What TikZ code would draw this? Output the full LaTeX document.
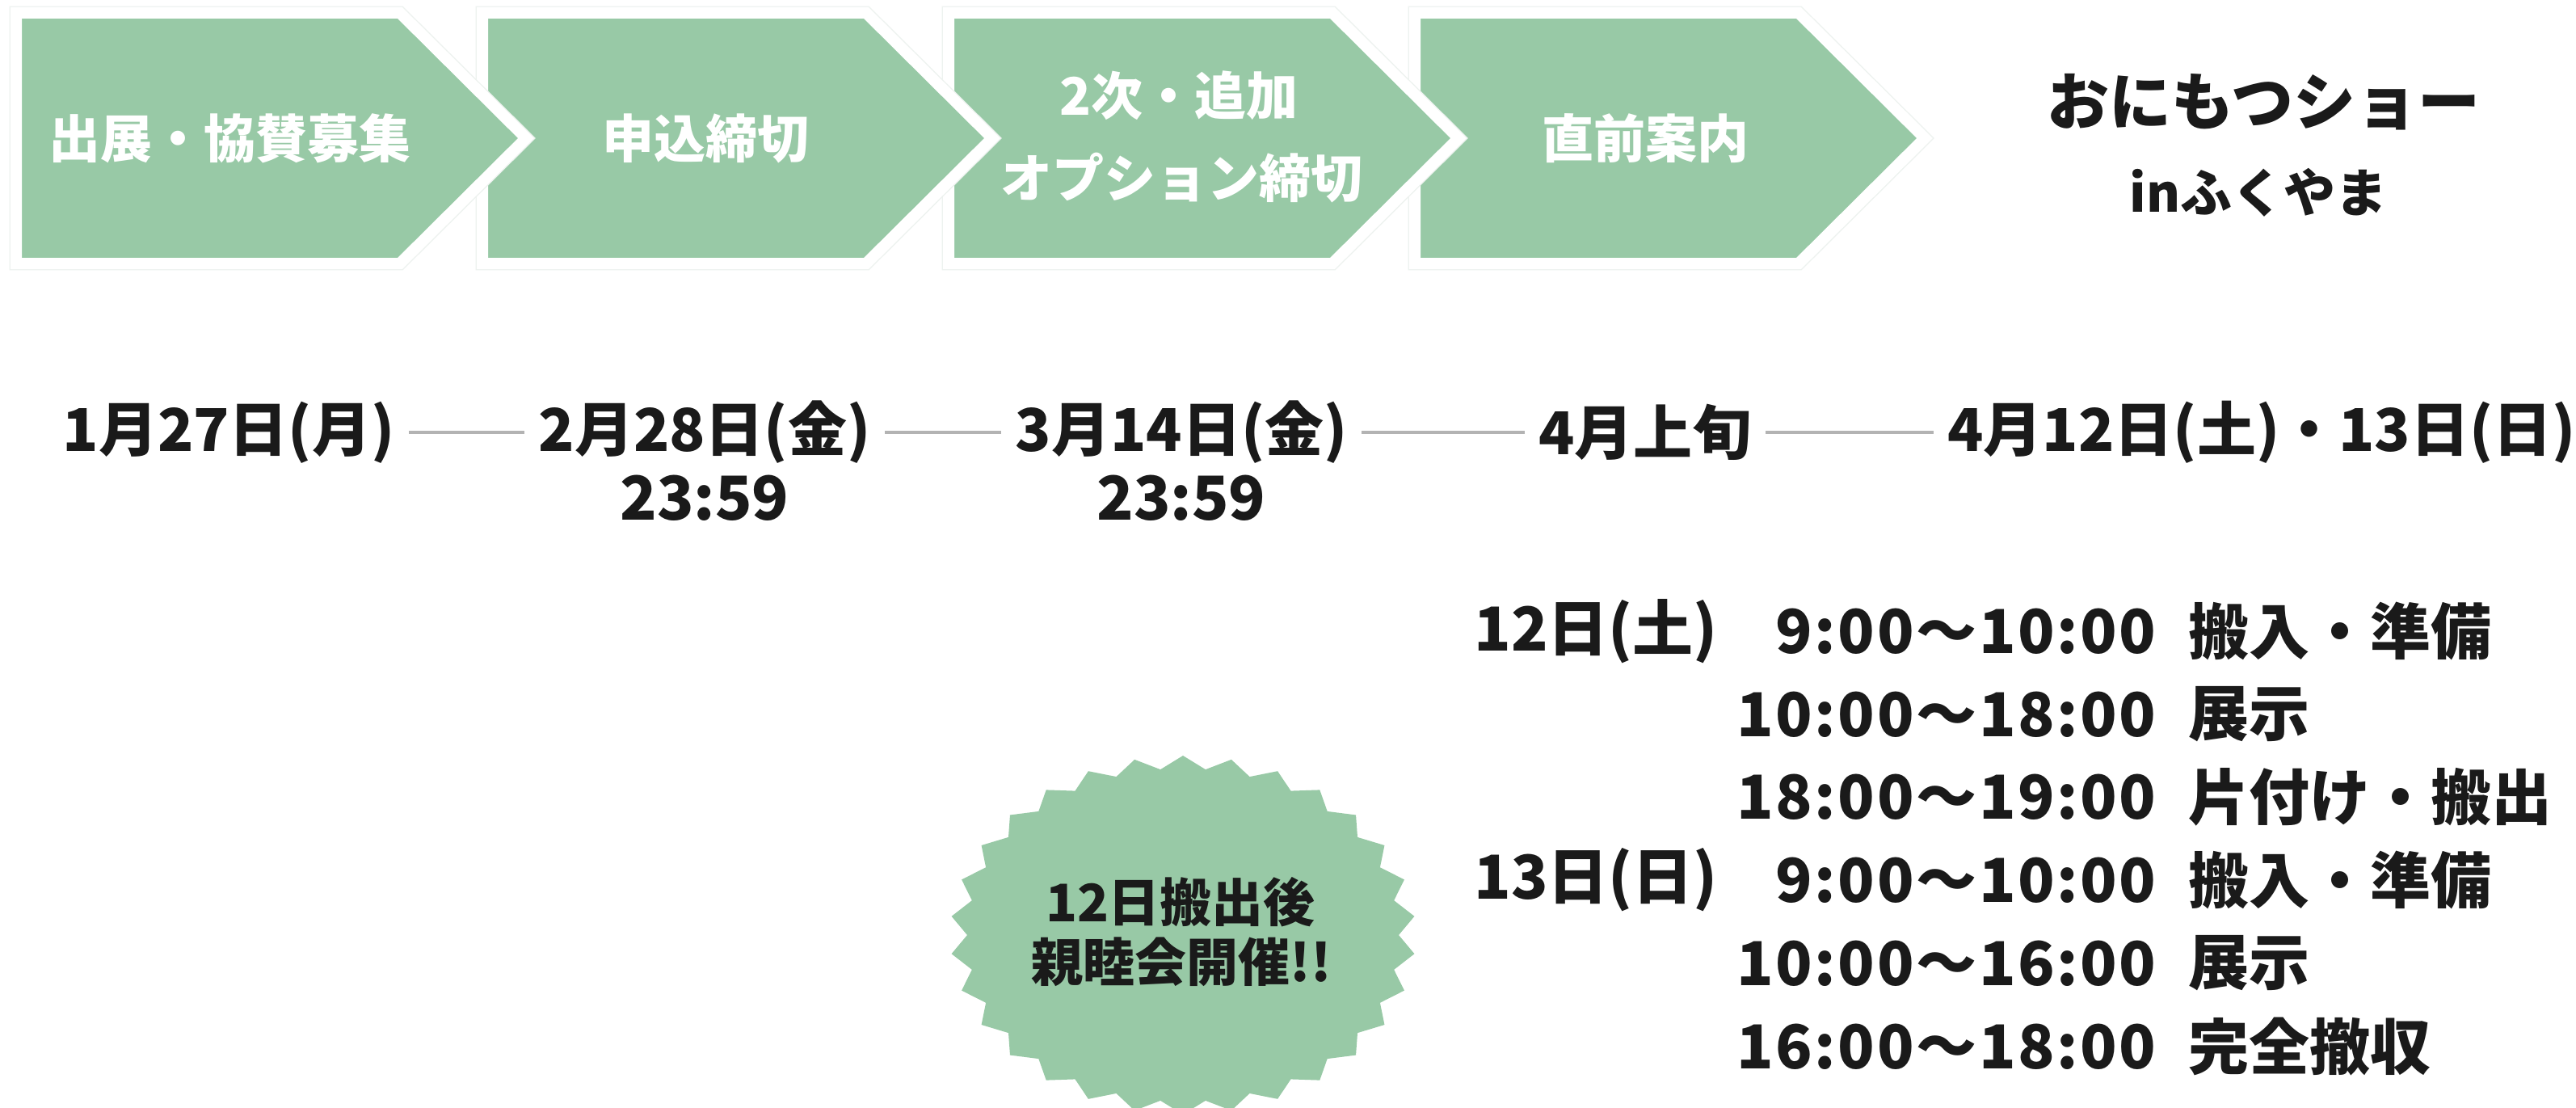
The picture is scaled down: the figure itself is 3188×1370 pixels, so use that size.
\documentclass[tikz,border=0pt]{standalone}
\usepackage{fontspec}
\setmainfont{Noto Sans CJK JP}
\definecolor{chgreen}{HTML}{98C9A6}
\definecolor{ink}{HTML}{1A1A1A}
\definecolor{rulegray}{HTML}{B3B3B3}
\definecolor{halo}{HTML}{EDF2EF}
\newcommand\chevshape[1]{(#1,16) -- ++(475,0) -- ++(156,155) -- ++(-156,155) -- ++(-475,0) -- cycle}
\begin{document}
\begin{tikzpicture}[x=0.5pt,y=-0.5pt,
  chevhalo/.style={draw=halo,line width=8.4pt,line join=miter},
  chevbody/.style={fill=chgreen,draw=white,line width=7pt,line join=miter},
  chevtext/.style={text=white,inner sep=0pt,font=\bfseries\fontsize{32pt}{38pt}\selectfont},
  titletext/.style={text=ink,inner sep=0pt,font=\bfseries\fontsize{38.5pt}{46pt}\selectfont},
  subtitletext/.style={text=ink,inner sep=0pt,font=\bfseries\fontsize{32pt}{38pt}\selectfont},
  datetext/.style={text=ink,inner xsep=8.5pt,inner ysep=0pt,font=\bfseries\fontsize{36.5pt}{44pt}\selectfont},
  timetext/.style={text=ink,inner sep=0pt,font=\bfseries\fontsize{37.5pt}{45pt}\selectfont},
  conn/.style={draw=rulegray,line width=1.7pt},
  schedtext/.style={text=ink,inner sep=0pt,font=\bfseries\fontsize{37.5pt}{45pt}\selectfont},
  schedtime/.style={text=ink,inner sep=0pt,font=\bfseries\fontsize{37.5pt}{45pt}\selectfont\addfontfeatures{LetterSpace=3.5}},
  bursttext/.style={text=ink,inner sep=0pt,font=\bfseries\fontsize{32pt}{38pt}\selectfont}]
\useasboundingbox (0,0) rectangle (3188,1370);
\fill[white] (0,0) rectangle (3188,1370);
\clip (0,0) rectangle (3188,1370);
% chevrons (drawn right to left so each tip lies over the next)
\foreach \L in {1751,1174,597,20} {
  \draw[chevhalo] \chevshape{\L};
  \draw[chevbody] \chevshape{\L};
}
\node[chevtext] (c1) at (284,171) {出展・協賛募集};
\node[chevtext] (c2) at (873,171) {申込締切};
\node[chevtext] (c3a) at (1459,118) {2次・追加};
\node[chevtext] (c3b) at (1462,220) {オプション締切};
\node[chevtext] (c4) at (2036,171) {直前案内};
% title
\node[titletext] (t1) at (2801,126) {おにもつショー};
\node[subtitletext] (t2) at (2795,238) {inふくやま};
% dates
\node[datetext] (d1) at (283,535) {1月27日(月)};
\node[datetext] (d2) at (872,535) {2月28日(金)};
\node[timetext] (d2b) at (872,616) {23:59};
\node[datetext] (d3) at (1462,535) {3月14日(金)};
\node[timetext] (d3b) at (1462,616) {23:59};
\node[datetext] (d4) at (2036,535) {4月上旬};
\node[datetext] (d5) at (2799,535) {4月12日(土)・13日(日)};
\draw[conn] (d1.east) -- (d1.east -| d2.west);
\draw[conn] (d2.east) -- (d2.east -| d3.west);
\draw[conn] (d3.east) -- (d3.east -| d4.west);
\draw[conn] (d4.east) -- (d4.east -| d5.west);
% schedule
\node[schedtext,anchor=west] (day1) at (1824,781) {12日(土)};
\node[schedtime,anchor=east] (tm1) at (2669,781) {9:00〜10:00};
\node[schedtext,anchor=west] (ac1) at (2708,781) {搬入・準備};
\node[schedtime,anchor=east] (tm2) at (2669,884) {10:00〜18:00};
\node[schedtext,anchor=west] (ac2) at (2708,884) {展示};
\node[schedtime,anchor=east] (tm3) at (2669,986) {18:00〜19:00};
\node[schedtext,anchor=west] (ac3) at (2708,986) {片付け・搬出};
\node[schedtext,anchor=west] (day2) at (1824,1089) {13日(日)};
\node[schedtime,anchor=east] (tm4) at (2669,1089) {9:00〜10:00};
\node[schedtext,anchor=west] (ac4) at (2708,1089) {搬入・準備};
\node[schedtime,anchor=east] (tm5) at (2669,1192) {10:00〜16:00};
\node[schedtext,anchor=west] (ac5) at (2708,1192) {展示};
\node[schedtime,anchor=east] (tm6) at (2669,1295) {16:00〜18:00};
\node[schedtext,anchor=west] (ac6) at (2708,1295) {完全撤収};
% starburst
\fill[chgreen] (1464,935) \foreach \k in {0,...,29} {
  -- ({1464+288*sin(12*\k)},{1157-222*cos(12*\k)})
  -- ({1464+267*sin(12*\k+6)},{1157-206*cos(12*\k+6)}) } -- cycle;
\node[bursttext] (b1) at (1461,1116) {12日搬出後};
\node[bursttext] (b2) at (1462,1190) {親睦会開催!!};
\end{tikzpicture}
\end{document}
